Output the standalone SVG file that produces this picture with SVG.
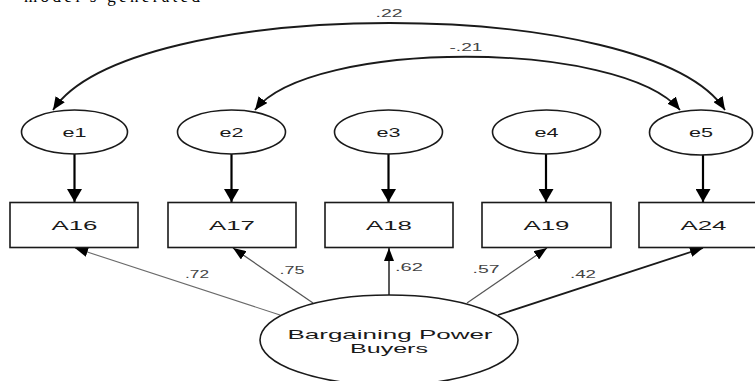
<svg xmlns="http://www.w3.org/2000/svg" width="755" height="381" viewBox="0 0 755 381">
<style>
  .node { fill: #ffffff; stroke: #1a1a1a; stroke-width: 1.6; }
  .lbl { font-family: "Liberation Sans", Arial, sans-serif; font-size: 13px; fill: #1a1a1a; text-anchor: middle; }
  .num { font-family: "Liberation Sans", Arial, sans-serif; font-size: 11px; fill: #444444; text-anchor: middle; }
  .err { stroke: #000000; stroke-width: 2.2; fill: none; }
  .load { fill: none; }
  .cov { stroke: #1a1a1a; stroke-width: 1.8; fill: none; }
</style>
<defs>
  <marker id="headBig" markerUnits="userSpaceOnUse" markerWidth="14" markerHeight="15" refX="13" refY="7.5" orient="auto">
    <path d="M0,0 L13,7.5 L0,15 z" fill="#000"/>
  </marker>
  <marker id="headSmall" markerUnits="userSpaceOnUse" markerWidth="14" markerHeight="10" refX="13" refY="5" orient="auto">
    <path d="M0,0 L13,5 L0,10 z" fill="#000"/>
  </marker>
  <marker id="headCov" markerUnits="userSpaceOnUse" markerWidth="14" markerHeight="11" refX="13" refY="5.5" orient="auto-start-reverse">
    <path d="M0,0 L13,5.5 L0,11 z" fill="#000"/>
  </marker>
</defs>
<rect x="0" y="0" width="755" height="381" fill="#ffffff"/>
<text x="24" y="1.5" font-family="Liberation Serif, serif" font-size="17" fill="#000" textLength="176" lengthAdjust="spacing">model's generated</text>

<g id="connectors">
  <path class="cov" d="M725,110 C650,-6 130,-6 53,110" marker-start="url(#headCov)" marker-end="url(#headCov)"/>
  <path class="cov" d="M680,110 C620,39 310,39 255,110" marker-start="url(#headCov)" marker-end="url(#headCov)"/>
  <line class="err" x1="74.5" y1="154" x2="74.5" y2="202" marker-end="url(#headBig)"/>
  <line class="err" x1="231.5" y1="154" x2="231.5" y2="202" marker-end="url(#headBig)"/>
  <line class="err" x1="388.5" y1="154" x2="388.5" y2="202" marker-end="url(#headBig)"/>
  <line class="err" x1="546" y1="154" x2="546" y2="202" marker-end="url(#headBig)"/>
  <line class="err" x1="703" y1="155" x2="703" y2="202" marker-end="url(#headBig)"/>
  <line class="load" x1="280" y1="315" x2="75" y2="248" stroke="#6a6a6a" stroke-width="1.1" marker-end="url(#headSmall)"/>
  <line class="load" x1="313" y1="303" x2="233" y2="248" stroke="#555" stroke-width="1.3" marker-end="url(#headSmall)"/>
  <line class="load" x1="389" y1="295" x2="389" y2="248" stroke="#222" stroke-width="1.5" marker-end="url(#headSmall)"/>
  <line class="load" x1="467" y1="303" x2="547" y2="248" stroke="#555" stroke-width="1.2" marker-end="url(#headSmall)"/>
  <line class="load" x1="498" y1="315" x2="703" y2="248" stroke="#1a1a1a" stroke-width="1.8" marker-end="url(#headSmall)"/>
  <text class="num" x="389" y="17" textLength="27" lengthAdjust="spacingAndGlyphs">.22</text>
  <text class="num" x="466" y="51" textLength="33" lengthAdjust="spacingAndGlyphs">-.21</text>
  <text class="num" x="197" y="278" textLength="24" lengthAdjust="spacingAndGlyphs">.72</text>
  <text class="num" x="292" y="274" textLength="25" lengthAdjust="spacingAndGlyphs">.75</text>
  <text class="num" x="409" y="271" textLength="28" lengthAdjust="spacingAndGlyphs">.62</text>
  <text class="num" x="486" y="273" textLength="27" lengthAdjust="spacingAndGlyphs">.57</text>
  <text class="num" x="583" y="278" textLength="26" lengthAdjust="spacingAndGlyphs">.42</text>
</g>

<g id="e1"><ellipse class="node" cx="74.5" cy="132" rx="53" ry="22"/><text class="lbl" x="74.5" y="137" textLength="24" lengthAdjust="spacingAndGlyphs">e1</text></g>
<g id="e2"><ellipse class="node" cx="231.5" cy="132" rx="54" ry="22"/><text class="lbl" x="231.5" y="137" textLength="24" lengthAdjust="spacingAndGlyphs">e2</text></g>
<g id="e3"><ellipse class="node" cx="388.5" cy="132" rx="54" ry="22"/><text class="lbl" x="388.5" y="137" textLength="24" lengthAdjust="spacingAndGlyphs">e3</text></g>
<g id="e4"><ellipse class="node" cx="546.5" cy="132" rx="54" ry="22"/><text class="lbl" x="546.5" y="137" textLength="24" lengthAdjust="spacingAndGlyphs">e4</text></g>
<g id="e5"><ellipse class="node" cx="701" cy="132.5" rx="51.5" ry="22.5"/><text class="lbl" x="701" y="137" textLength="24" lengthAdjust="spacingAndGlyphs">e5</text></g>

<g id="A16"><rect class="node" x="10" y="202.5" width="128" height="45"/><text class="lbl" x="74.5" y="230" textLength="46" lengthAdjust="spacingAndGlyphs">A16</text></g>
<g id="A17"><rect class="node" x="168" y="202.5" width="128" height="45"/><text class="lbl" x="232" y="230" textLength="46" lengthAdjust="spacingAndGlyphs">A17</text></g>
<g id="A18"><rect class="node" x="325" y="202.5" width="128" height="45"/><text class="lbl" x="389" y="230" textLength="46" lengthAdjust="spacingAndGlyphs">A18</text></g>
<g id="A19"><rect class="node" x="482" y="202.5" width="129" height="45"/><text class="lbl" x="546.5" y="230" textLength="46" lengthAdjust="spacingAndGlyphs">A19</text></g>
<g id="A24"><rect class="node" x="639" y="202.5" width="128" height="45"/><text class="lbl" x="703.5" y="230" textLength="46" lengthAdjust="spacingAndGlyphs">A24</text></g>

<g id="BargainingPowerBuyers"><ellipse class="node" cx="389" cy="340" rx="129" ry="45"/>
  <text class="lbl" x="390" y="339" textLength="205" lengthAdjust="spacingAndGlyphs">Bargaining Power</text>
  <text class="lbl" x="389" y="353" textLength="78" lengthAdjust="spacingAndGlyphs">Buyers</text>
</g>
</svg>
